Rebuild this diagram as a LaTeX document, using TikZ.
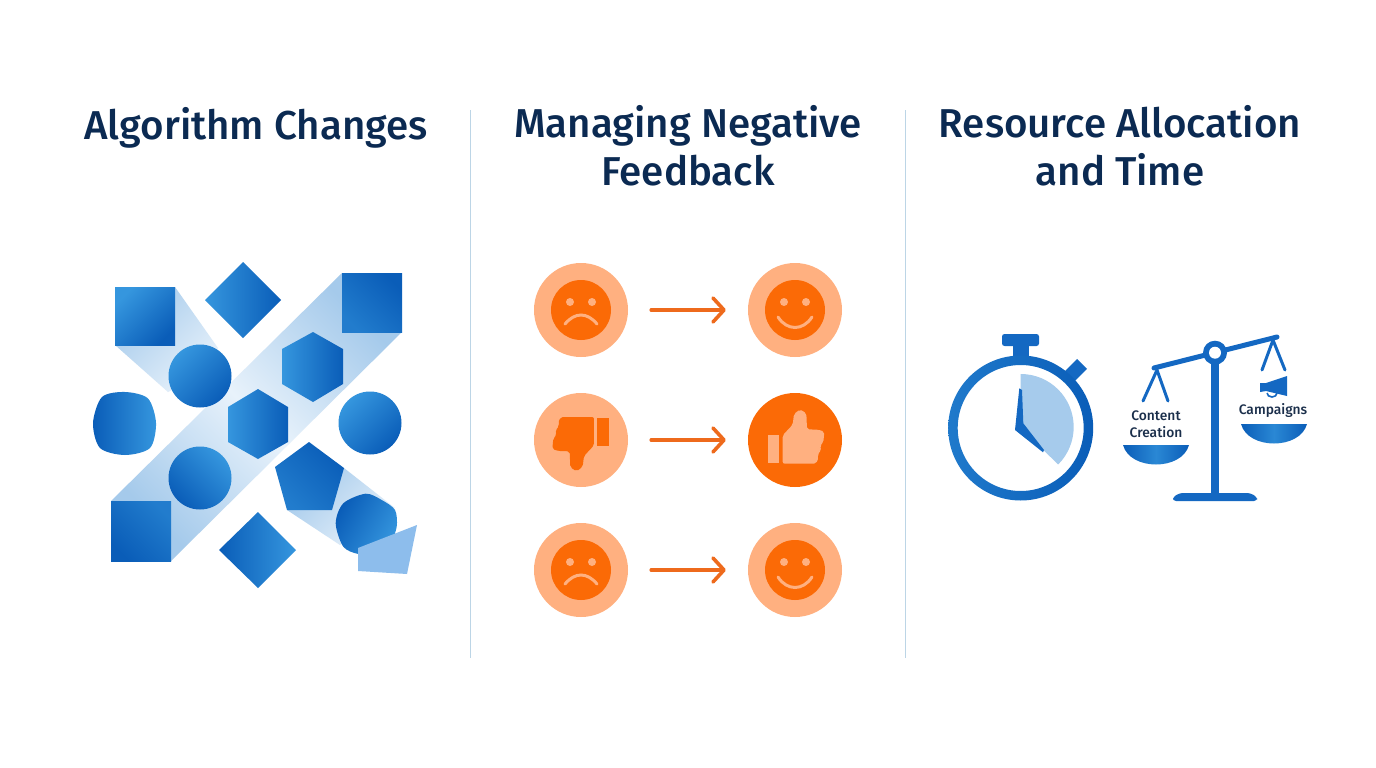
\documentclass[tikz,border=0pt]{standalone}
\usepackage{fontspec}
\setmainfont{Fira Sans}[UprightFont=* Medium]
\usetikzlibrary{arrows.meta}
\definecolor{lite}{HTML}{3596DE}
\definecolor{dark}{HTML}{0A5DB8}
\definecolor{bandend}{HTML}{A5CAEB}
\definecolor{bandmid}{HTML}{E8F2FB}
\definecolor{ink}{HTML}{0B2A52}
\definecolor{labelink}{HTML}{1B2F4B}
\definecolor{rule}{HTML}{BCD5E6}
\definecolor{peach}{HTML}{FFB080}
\definecolor{orange}{HTML}{FB6A06}
\definecolor{arrowc}{HTML}{EE6A1C}
\definecolor{steel}{HTML}{1468C2}
\definecolor{wedge}{HTML}{A6CBEC}
\definecolor{paleshape}{HTML}{8DBDEC}
\tikzset{
  grad/.style={top color=lite,bottom color=dark,shading angle=#1-90},
  gradsoft/.style={top color=lite!55!dark,bottom color=dark,shading angle=#1-90},
  band/.style={top color=bandend,bottom color=bandmid,shading angle=#1-90},
  title/.style={text=ink,font=\fontsize{40.3}{48}\selectfont,align=center,inner sep=0},
  small/.style={text=labelink,font=\fontsize{13.8}{17}\selectfont,align=center,inner sep=0},
  divider/.style={draw=rule,line width=1pt},
  peachdisc/.style={circle,minimum size=94pt,inner sep=0,fill=peach},
  fulldisc/.style={circle,minimum size=94pt,inner sep=0,fill=orange},
  flow/.style={draw=arrowc,line width=3.6pt,line cap=round,shorten <=23pt,shorten >=22pt,
    -{Straight Barb[length=11pt,width=24pt,line width=3.6pt,round]}},
  hair/.style={draw=steel,line width=3pt,line cap=round},
  pan/.style={left color=dark,right color=dark,middle color=lite!75!dark}
}
\newcommand{\sadface}[2]{%
  \fill[orange] (#1,#2) circle (30);
  \fill[peach] (#1-11,#2-8) circle (4) (#1+11,#2-8) circle (4);
  \draw[peach,line width=3pt,line cap=round] (#1-16,#2+14) .. controls (#1-6,#2+2) and (#1+6,#2+2) .. (#1+16,#2+14);}
\newcommand{\happyface}[2]{%
  \fill[orange] (#1,#2) circle (30);
  \fill[peach] (#1-11,#2-8) circle (4) (#1+11,#2-8) circle (4);
  \draw[peach,line width=3pt,line cap=round] (#1-17,#2+7) .. controls (#1-8,#2+21) and (#1+8,#2+21) .. (#1+17,#2+7);}
\newcommand{\thumbshape}[1]{%
  \fill[#1] (232,113) rectangle (266,198);
  \fill[#1,rounded corners=2pt] (222,111) -- (122,111) -- (114,130) -- (118,140) -- (106,150) -- (110,165) -- (100,175) -- (97,207) -- (115,213) -- (149,214) -- (151,262) -- (170,274) -- (188,260) -- (192,228) -- (222,196) -- cycle;}
\begin{document}
\begin{tikzpicture}[x=1pt,y=-1pt]
\useasboundingbox (0,0) rectangle (1376,768);
\fill[white] (0,0) rectangle (1376,768);
% titles
\node[title] (t1) at (256,128) {Algorithm Changes};
\node[title,anchor=north] (t2) at (688,105) {Managing Negative\\Feedback};
\node[title,anchor=north] (t3) at (1120,105) {Resource Allocation\\and Time};
% dividers
\coordinate (d1a) at (470,110); \coordinate (d1b) at (470,658);
\coordinate (d2a) at (905,110); \coordinate (d2b) at (905,658);
\draw[divider] (d1a) -- (d1b);
\draw[divider] (d2a) -- (d2b);
% left panel: bands
\shade[top color=bandend,bottom color=bandend,middle color=bandmid,shading angle=-45]
  (111,501) -- (342,273) -- (402,332) -- (171,561) -- cycle;
\shade[band=135] (175,287) -- (218,348) -- (200,376) -- (168,392) -- (115,345) -- cycle;
\shade[band=135] (344,468) -- (395,508) -- (340,545) -- (287,510) -- cycle;
% left panel: shapes
\shade[grad=135] (115,287) rectangle (175,345);
\shade[grad=180] (243,262) -- (281,300) -- (243,338) -- (205,300) -- cycle;
\shade[gradsoft=225] (342,273) rectangle (402,332);
\shade[grad=180] (313,332) -- (343,349) -- (343,384) -- (313,402) -- (282,384) -- (282,349) -- cycle;
\shade[grad=180] (258,389) -- (288,407) -- (288,442) -- (258,459) -- (228,442) -- (228,407) -- cycle;
\shade[grad=135] (200,376) circle (31.5);
\shade[grad=135] (370,423) circle (31.5);
\shade[grad=45] (200,478) circle (31.5);
\shade[grad=0] plot[smooth cycle] coordinates {(125,392) (148,398.5) (156,423) (150,448) (125,455) (100,448) (93,423) (102,397)};
\shade[gradsoft=45] (111,501) rectangle (171,561);
\shade[gradsoft=225] (309,442) -- (344,468) -- (332,510) -- (287,510) -- (275,467) -- cycle;
\shade[grad=-30] plot[smooth cycle] coordinates {(365.7,493.7) (381.7,500) (395,510) (396.7,526.7) (390,543.3) (373.3,553.3) (358.3,554) (343.3,546.7) (335.7,523.3) (343.3,503.3)};
\fill[paleshape] (417,525) -- (407,574) -- (358,571) -- (358,548) -- cycle;
\shade[grad=0] (258,512) -- (296,550) -- (258,588) -- (219,550) -- cycle;
% middle panel
\node[peachdisc] (a1) at (581,310) {};
\node[peachdisc] (b1) at (795,310) {};
\node[peachdisc] (a2) at (581,440) {};
\node[fulldisc]  (b2) at (795,440) {};
\node[peachdisc] (a3) at (581,570) {};
\node[peachdisc] (b3) at (795,570) {};
\sadface{581}{310}
\happyface{795}{310}
\sadface{581}{570}
\happyface{795}{570}
\begin{scope}[shift={(520,380)},x=0.3333pt,y=-0.3333pt]
  \thumbshape{orange}
\end{scope}
\begin{scope}[shift={(856.67,500.67)},x=-0.3333pt,y=0.3333pt]
  \thumbshape{peach}
\end{scope}
\draw[flow] (a1) -- (b1);
\draw[flow] (a2) -- (b2);
\draw[flow] (a3) -- (b3);
% stopwatch
\fill[steel] (1013,345) rectangle (1029,360);
\fill[steel,rounded corners=2.5pt] (1002,334) rectangle (1039,346);
\fill[steel,rotate around={45:(1075,371)}] (1066,364) rectangle (1085,378);
\shade[left color=lite!50!dark,right color=dark,even odd rule] (1020.7,428) circle (72.5) (1020.7,428) circle (63);
\fill[wedge] (1020.7,428) -- (1020.7,374) arc[start angle=-90,end angle=45,radius=53] -- cycle;
\fill[steel] (1019.3,388.3) -- (1015,430) -- (1043,452.3) -- (1044,450) -- (1023.3,423.3) -- (1022,390) -- cycle;
% balance
\fill[steel] (1211,353) rectangle (1219,494);
\fill[steel,rounded corners=3pt] (1173,501) -- (1173,497) -- (1180,493) -- (1250,493) -- (1257,497) -- (1257,501) -- cycle;
\draw[steel,line width=5pt,line cap=round] (1154,368) -- (1277,337);
\fill[steel] (1215,352.7) circle (12);
\fill[white] (1215,352.7) circle (6);
\draw[hair] (1143,401) -- (1157,370) -- (1168,401);
\draw[hair] (1262,370) -- (1273,340) -- (1285,370);
\shade[pan] (1123,445) .. controls (1130,471) and (1182,471) .. (1189,445) -- cycle;
\shade[pan] (1241,424) .. controls (1248,450) and (1300,450) .. (1307,424) -- cycle;
\fill[steel] (1260,383) -- (1266,383) -- (1287,376) -- (1287,396) -- (1266,391) -- (1260,392) -- cycle;
\draw[steel,line width=1.6pt] (1267,393) arc[start angle=180,end angle=0,x radius=5,y radius=4];
\node[small] (l1) at (1156,424.5) {Content\\Creation};
\node[small] (l2) at (1273,411) {Campaigns};
\end{tikzpicture}
\end{document}
